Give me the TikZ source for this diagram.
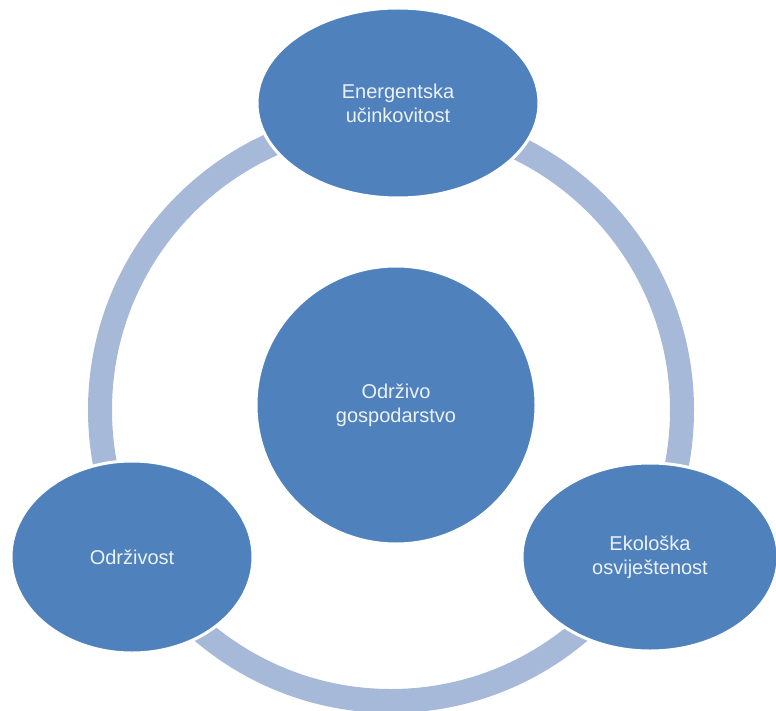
\documentclass[tikz,border=0pt]{standalone}
\usepackage{fontspec}
\setmainfont{Liberation Sans}
\usetikzlibrary{shapes.geometric}
\definecolor{lcnode}{RGB}{79,129,189}
\definecolor{lcring}{RGB}{167,185,217}
\definecolor{lctext}{RGB}{236,241,250}

\begin{document}
\begin{tikzpicture}[%
    x=1pt, y=-1pt,              % Work in pixel units, top-down
    every node/.style={font=\fontsize{20}{24}\selectfont}
    ]
% -------------------------------------------------
% Box styles
\tikzset{
  base/.style={ellipse, fill=lcnode, draw=white, line width=3pt,
    text=lctext, align=center, inner sep=0pt},
  outer/.style={base, minimum width=250pt, minimum height=192pt},
  hub/.style={base, minimum width=280pt, minimum height=278pt},
  % ring line style
  ring/.style={draw, lcring, line width=24pt}
}
\useasboundingbox (0,0) rectangle (776,711);
% -------------------------------------------------
% The ring goes first, underneath everything
\coordinate (rc) at (391,410);
\draw [ring] (rc) circle [radius=291pt];

% -------------------------------------------------
% Middle node
\node [hub] (mid) at (396,405) {Održivo\\gospodarstvo};

% Nodes round the ring
\node [outer, minimum width=282pt, minimum height=190pt] (top) at (398,103)
  {Energentska\\učinkovitost};
\node [outer, minimum width=242pt] (left) at (132,557) {Održivost};
\node [outer, minimum width=256pt, minimum height=188pt] (right) at (650,557)
  {Ekološka\\osviještenost};
% -------------------------------------------------
\end{tikzpicture}
\end{document}
